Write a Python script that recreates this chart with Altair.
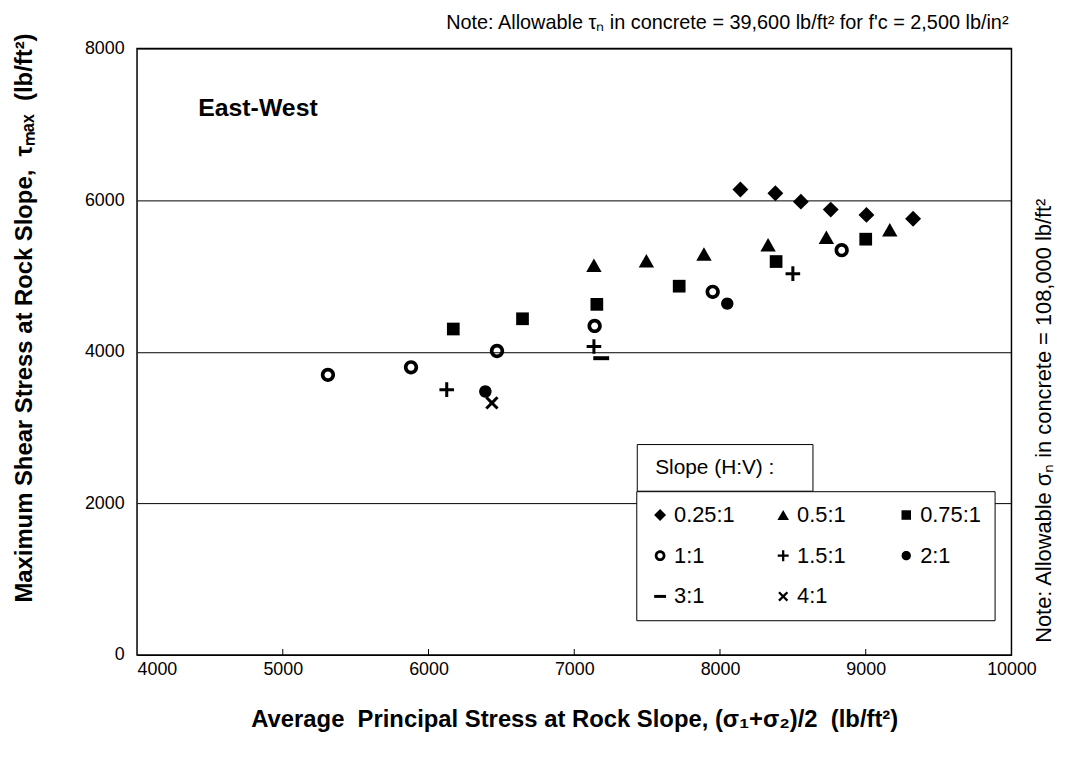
import altair as alt
import pandas as pd

# ---------------- data ----------------
categories = ["0.25:1", "0.5:1", "0.75:1", "1:1", "1.5:1", "2:1", "3:1", "4:1"]

s025_x = [8140, 8380, 8555, 8760, 9005, 9325]
s025_y = [6140, 6090, 5980, 5875, 5805, 5755]
s05_x = [7135, 7495, 7890, 8330, 8730, 9165]
s05_y = [5140, 5200, 5290, 5410, 5510, 5610]
s075_x = [6170, 6645, 7155, 7720, 8385, 9000]
s075_y = [4300, 4435, 4625, 4865, 5190, 5485]
s1_x = [5310, 5880, 6470, 7140, 7950, 8835]
s1_y = [3695, 3795, 4010, 4340, 4790, 5340]
s15_x = [6125, 7135, 8500]
s15_y = [3500, 4070, 5030]
s2_x = [6390, 8050]
s2_y = [3475, 4635]
s3_x = [7185]
s3_y = [3915]
s4_x = [6435]
s4_y = [3325]

x_ticks = [4000, 5000, 6000, 7000, 8000, 9000, 10000]
inner_ticks = [5000, 6000, 7000, 8000, 9000]
y_ticks = [0, 2000, 4000, 6000, 8000]

label_text = ["East-West"]
label_x = [4420]
label_y = [7217]

# ---------------- table ----------------
series = [
    (categories[0], s025_x, s025_y),
    (categories[1], s05_x, s05_y),
    (categories[2], s075_x, s075_y),
    (categories[3], s1_x, s1_y),
    (categories[4], s15_x, s15_y),
    (categories[5], s2_x, s2_y),
    (categories[6], s3_x, s3_y),
    (categories[7], s4_x, s4_y),
]
rows = []
for cat, xs, ys in series:
    for xv, yv in zip(xs, ys):
        rows.append({"slope": cat, "x": xv, "y": yv})
df = pd.DataFrame(rows)

# symbol shapes (all drawn as filled black outlines)
shape_range = [
    "M0,-1L1,0L0,1L-1,0Z",                                            # diamond
    "M0,-0.85L0.97,0.85L-0.97,0.85Z",                                 # triangle
    "M-0.8,-0.8H0.8V0.8H-0.8Z",                                       # square
    "M-0.9,0A0.9,0.9 0 1,0 0.9,0A0.9,0.9 0 1,0 -0.9,0Z"
    "M-0.44,0A0.44,0.44 0 1,1 0.44,0A0.44,0.44 0 1,1 -0.44,0Z",       # open ring
    "M-0.92,-0.19H-0.19V-0.92H0.19V-0.19H0.92V0.19H0.19V0.92H-0.19V0.19H-0.92Z",  # plus
    "M-0.78,0A0.78,0.78 0 1,0 0.78,0A0.78,0.78 0 1,0 -0.78,0Z",       # filled circle
    "M-1,-0.25H1V0.25H-1Z",                                           # dash
    "M-0.573,-0.842L0,-0.269L0.573,-0.842L0.842,-0.573L0.269,0L0.842,0.573"
    "L0.573,0.842L0,0.269L-0.573,0.842L-0.842,0.573L-0.269,0L-0.842,-0.573Z",  # x
]

FONT = "Liberation Sans"
SP = "\u00a0"

legend = alt.Legend(
    title=None,
    orient="none",
    legendX=503,
    legendY=446,
    direction="horizontal",
    columns=3,
    gridAlign="all",
    columnPadding=37,
    rowPadding=19,
    padding=13,
    strokeColor="black",
    fillColor="white",
    symbolSize=144,
    symbolFillColor="black",
    symbolStrokeWidth=0,
    symbolOpacity=1,
    labelFontSize=22,
    labelFont=FONT,
    labelColor="black",
    labelOffset=3,
)

xscale = alt.Scale(domain=[4000, 10000], nice=False, zero=False)
yscale = alt.Scale(domain=[0, 8000], nice=False)

xaxis = alt.Axis(
    values=x_ticks, format="d", grid=False, ticks=False, domain=False,
    labelFontSize=18, labelPadding=6, labelColor="black", labelFlush=False,
    labelAlign={"condition": {"test": "datum.value == 4000", "value": "left"}, "value": "center"},
    title=f"Average{SP}{SP}Principal Stress at Rock Slope, (σ₁+σ₂)/2{SP}{SP}(lb/ft²)",
    titleFontSize=24, titleFontWeight="bold", titleColor="black",
    titleY=65, titleBaseline="middle",
)
yaxis = alt.Axis(
    values=y_ticks, format="d", grid=True, gridColor="black", gridWidth=1, gridOpacity=1,
    ticks=False, domain=False,
    labelFontSize=18, labelPadding=13, labelColor="black",
    title=f"Maximum Shear Stress at Rock Slope,{SP}{SP}τₘₐₓ{SP}{SP}(lb/ft²)",
    titleFontSize=24, titleFontWeight="bold", titleColor="black",
    titleX=-113, titleY=271, titleAlign="center", titleBaseline="middle",
)

points = alt.Chart(df).mark_point(
    filled=True, color="black", opacity=1, size=256, strokeWidth=0
).encode(
    x=alt.X("x:Q", scale=xscale, axis=xaxis),
    y=alt.Y("y:Q", scale=yscale, axis=yaxis),
    shape=alt.Shape("slope:N", scale=alt.Scale(domain=categories, range=shape_range), legend=legend),
)

ticks = alt.Chart(pd.DataFrame({"v": inner_ticks})).mark_rule(color="black", strokeWidth=1).encode(
    x=alt.X("v:Q", scale=xscale),
    y=alt.value(611),
    y2=alt.value(605),
)

ew = alt.Chart(pd.DataFrame({"t": label_text, "x": label_x, "y": label_y})).mark_text(
    align="left", baseline="middle", fontSize=25, fontWeight="bold", font=FONT, color="black"
).encode(x=alt.X("x:Q", scale=xscale), y=alt.Y("y:Q", scale=yscale), text="t:N")

title_box = alt.Chart(pd.DataFrame({"t": ["Slope (H:V) :"]})).mark_rect(
    fill="white", stroke="black", strokeWidth=1
).encode(x=alt.value(504), x2=alt.value(681), y=alt.value(399), y2=alt.value(446))

title_text = alt.Chart(pd.DataFrame({"t": ["Slope (H:V) :"]})).mark_text(
    align="left", baseline="middle", fontSize=21, font=FONT, color="black"
).encode(x=alt.value(522), y=alt.value(423), text="t:N")

top_note = alt.Chart(pd.DataFrame({"t": ["Note: Allowable τₙ in concrete = 39,600 lb/ft² for f'c = 2,500 lb/in²"]})).mark_text(
    align="right", baseline="middle", fontSize=20, font=FONT, color="black"
).encode(x=alt.value(878), y=alt.value(-26), text="t:N")

right_note = alt.Chart(pd.DataFrame({"t": ["Note: Allowable σₙ in concrete = 108,000 lb/ft²"]})).mark_text(
    align="center", baseline="middle", fontSize=22, font=FONT, color="black", angle=270
).encode(x=alt.value(914), y=alt.value(375), text="t:N")

chart = alt.layer(ticks, points, ew, title_box, title_text, top_note, right_note).properties(
    width=881,
    height=611,
    autosize=alt.AutoSizeParams(type="none"),
    padding={"left": 130, "top": 38, "right": 63, "bottom": 105},
    background="white",
).configure(font=FONT).configure_view(stroke="black", strokeWidth=1.5)

chart.save("out.html", embed_options={"renderer": "svg", "actions": False})
